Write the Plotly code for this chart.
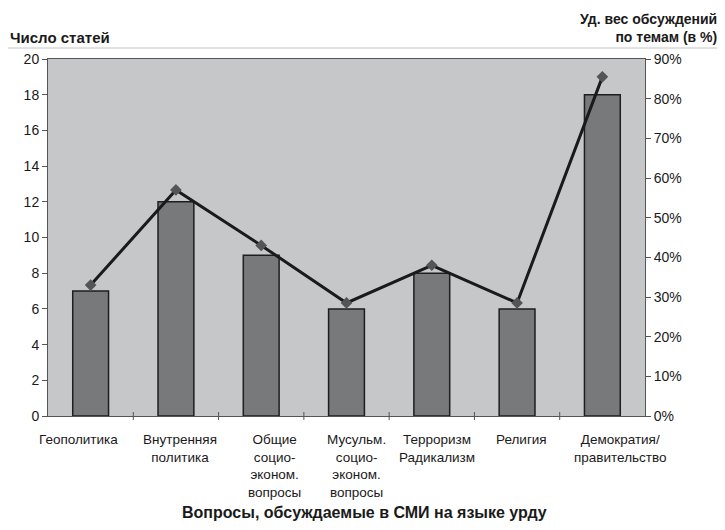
import plotly.graph_objects as go

categories = ["Геополитика", "Внутренняя политика", "Общие социо-эконом. вопросы",
              "Мусульм. социо-эконом. вопросы", "Терроризм Радикализм", "Религия",
              "Демократия/ правительство"]
cat_labels = ["Геополитика", "Внутренняя<br>политика", "Общие<br>социо-<br>эконом.<br>вопросы",
              "Мусульм.<br>социо-<br>эконом.<br>вопросы", "Терроризм<br>Радикализм", "Религия",
              "Демократия/<br>правительство"]
articles = [7, 12, 9, 6, 8, 6, 18]
share_pct = [33, 57, 43, 28.5, 38, 28.5, 85.5]
left_ticks = list(range(0, 21, 2))
right_ticks = list(range(0, 91, 10))
right_labels = [f"{v}%" for v in right_ticks]

FONT = "Liberation Sans, Arial, sans-serif"
# page offset (browser body margin)
OFF = 8
FW, FH = 725 - OFF, 530 - OFF
# plot area in page pixels
L, R, T, B = 48, 645, 59, 416
W, H = R - L, B - T

def px(x):
    return (x - L) / W

def py(y):
    return (B - y) / H

fig = go.Figure()
fig.add_trace(go.Bar(
    x=categories, y=articles, width=0.42,
    marker=dict(color="#78797b", line=dict(color="#1e1e1e", width=1.5)),
    yaxis="y", showlegend=False,
))
fig.add_trace(go.Scatter(
    x=categories, y=share_pct, mode="lines+markers",
    line=dict(color="#1a1a1a", width=3),
    marker=dict(symbol="diamond", size=9, color="#555555"),
    yaxis="y2", showlegend=False,
))

shifts = [-12, 4, 13, 10, 5, 4, 18]
for c, lab, s in zip(categories, cat_labels, shifts):
    fig.add_annotation(x=c, y=py(430), xref="x", yref="paper", text=lab,
                       showarrow=False, yanchor="top", xanchor="center", xshift=s,
                       font=dict(family=FONT, size=13.5, color="#1a1a1a"), align="center")

fig.add_annotation(x=px(8), y=py(37), xref="paper", yref="paper", text="<b>Число статей</b>",
                   showarrow=False, xanchor="left", yanchor="middle",
                   font=dict(family=FONT, size=15, color="#1a1a1a"))
fig.add_annotation(x=px(719), y=py(28), xref="paper", yref="paper",
                   text="<b>Уд. вес обсуждений<br>по темам (в %)</b>",
                   showarrow=False, xanchor="right", yanchor="middle", align="right",
                   font=dict(family=FONT, size=14, color="#1a1a1a"))
fig.add_annotation(x=px(364), y=py(512), xref="paper", yref="paper",
                   text="<b>Вопросы, обсуждаемые в СМИ на языке урду</b>",
                   showarrow=False, xanchor="center", yanchor="middle",
                   font=dict(family=FONT, size=16, color="#1a1a1a"))

fig.add_shape(type="rect", xref="paper", yref="paper",
              x0=px(5), x1=px(718), y0=py(540), y1=py(48),
              line=dict(color="#c4c4c4", width=1), layer="below")

fig.update_layout(
    width=FW, height=FH,
    margin=dict(l=L - OFF, r=725 - R, t=T - OFF, b=530 - B, autoexpand=False),
    paper_bgcolor="white", plot_bgcolor="#c6c7c9",
    font=dict(family=FONT, size=14, color="#1a1a1a"),
    xaxis=dict(showticklabels=False, showline=True, linecolor="#555555", linewidth=1,
               mirror=True, ticks="", showgrid=False, range=[-0.5, 6.5]),
    yaxis=dict(range=[0, 20], tickvals=left_ticks, ticks="outside", ticklen=5,
               tickcolor="#555555", showline=True, linecolor="#555555", linewidth=1,
               showgrid=False, zeroline=False, tickfont=dict(size=14), automargin=False),
    yaxis2=dict(range=[0, 90], tickvals=right_ticks, ticktext=right_labels, overlaying="y",
                side="right", ticks="outside", ticklen=5, tickcolor="#555555",
                showline=True, linecolor="#555555", linewidth=1, showgrid=False,
                zeroline=False, tickfont=dict(size=14), automargin=False),
)

# category boundary ticks on x axis
for i in range(1, 7):
    fig.add_shape(type="line", xref="x", yref="paper", x0=i - 0.5, x1=i - 0.5,
                  y0=py(420), y1=py(412), line=dict(color="#555555", width=1))

fig.write_html("out.html")
